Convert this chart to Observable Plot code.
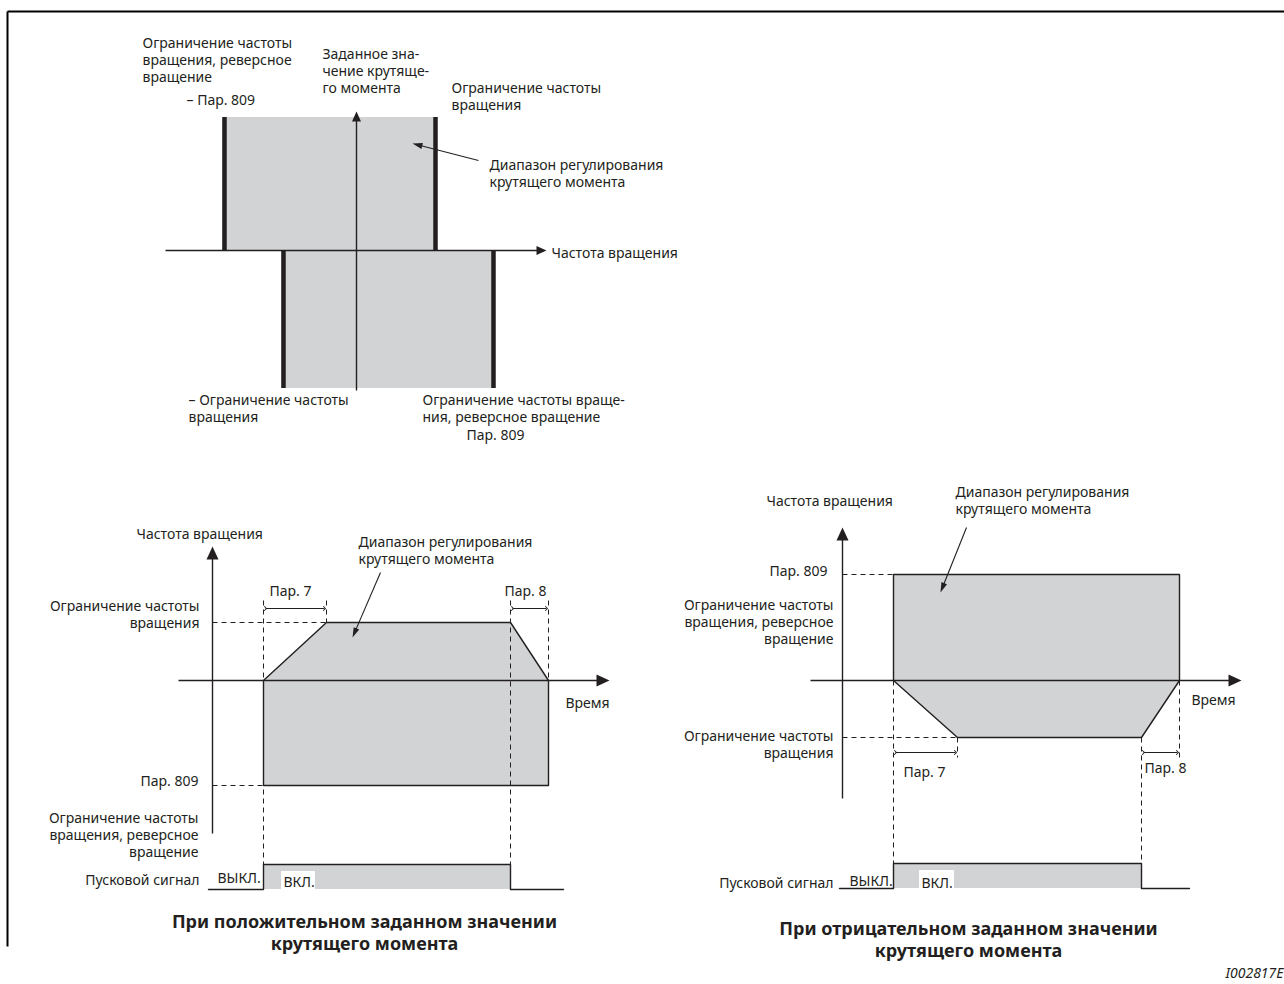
<!DOCTYPE html>
<html>
<head>
<meta charset="utf-8">
<script src="https://cdn.jsdelivr.net/npm/d3@7"></script>
<script src="https://cdn.jsdelivr.net/npm/@observablehq/plot@0.6"></script>
<style>
  html, body { margin: 0; padding: 0; background: #fff; }
  #chart svg { display: block; }
</style>
</head>
<body>
<div id="chart"></div>
<script>
// ---------- DATA (diagram coordinates, image units) ----------
const frameLines = [
  {x1: 7, y1: 11, x2: 1284, y2: 11},
  {x1: 7, y1: 11, x2: 7, y2: 946}
];

// Top diagram: torque range bands and speed-limit bars
const torqueBands = [
  {x1: 222, x2: 437, y1: 117, y2: 250},
  {x1: 281, x2: 495, y1: 250, y2: 388}
];
const limitBars = [
  {x: 224, y1: 117, y2: 250},
  {x: 435, y1: 117, y2: 250},
  {x: 283, y1: 250, y2: 388},
  {x: 493, y1: 250, y2: 388}
];

// Axis lines (solid) with filled arrowheads at their tips
const axisLines = [
  {x1: 165, y1: 250, x2: 546, y2: 250, head: 10, half: 4.5},
  {x1: 356, y1: 390, x2: 356, y2: 111, head: 10, half: 4.5},
  {x1: 212, y1: 833, x2: 212, y2: 546, head: 13, half: 6},
  {x1: 178, y1: 680, x2: 609, y2: 680, head: 13, half: 6},
  {x1: 842, y1: 798, x2: 842, y2: 527, head: 13, half: 6},
  {x1: 810, y1: 680, x2: 1241, y2: 680, head: 13, half: 6}
];

// Pointer lines to "torque range" areas
const pointers = [
  {x1: 478, y1: 160, x2: 412, y2: 143, head: 10, half: 3},
  {x1: 380, y1: 572, x2: 352, y2: 637, head: 10, half: 3},
  {x1: 966, y1: 527, x2: 940, y2: 592, head: 10, half: 3}
];

// Torque range shapes in the time diagrams
const posShape = [[263,680],[326,622],[510,622],[548,680],[548,785],[263,785],[263,680]];
const negShape = [[893,574],[1179,574],[1179,680],[1141,737],[957,737],[893,680],[893,574]];

// Dashed helper lines
const dashLines = [
  {x1: 212, y1: 622, x2: 326, y2: 622},
  {x1: 212, y1: 785, x2: 263, y2: 785},
  {x1: 263, y1: 600, x2: 263, y2: 864},
  {x1: 326, y1: 600, x2: 326, y2: 622},
  {x1: 510, y1: 600, x2: 510, y2: 864},
  {x1: 548, y1: 600, x2: 548, y2: 680},
  {x1: 842, y1: 574, x2: 893, y2: 574},
  {x1: 842, y1: 737, x2: 957, y2: 737},
  {x1: 893, y1: 680, x2: 893, y2: 863},
  {x1: 957, y1: 737, x2: 957, y2: 757},
  {x1: 1141, y1: 737, x2: 1141, y2: 863},
  {x1: 1179, y1: 680, x2: 1179, y2: 757}
];

// Dimension arrows (Pr. 7 / Pr. 8)
const dimArrows = [
  {x1: 265, x2: 324, y: 608},
  {x1: 512, x2: 546, y: 608},
  {x1: 895, x2: 955, y: 752},
  {x1: 1143, x2: 1177, y: 752}
];

// Start signal traces
const posSignal = [[208,889],[263,889],[263,864],[510,864],[510,889],[563,889]];
const negSignal = [[839,888],[893,888],[893,863],[1141,863],[1141,888],[1189,888]];
const signalFills = [
  {x1: 263, x2: 510, y1: 864, y2: 889},
  {x1: 893, x2: 1141, y1: 863, y2: 888}
];
const onBoxes = [
  {x1: 281, x2: 315, y1: 871, y2: 889},
  {x1: 919, x2: 954, y1: 870, y2: 888}
];

// Labels (y = centre of first line)
const labels = [
  // top diagram
  {t: "Ограничение частоты\nвращения, реверсное\nвращение", x: 142, y: 41, a: "start"},
  {t: "– Пар. 809", x: 186, y: 98, a: "start"},
  {t: "Заданное зна-\nчение крутяще-\nго момента", x: 322, y: 52, a: "start"},
  {t: "Ограничение частоты\nвращения", x: 451, y: 86, a: "start"},
  {t: "Диапазон регулирования\nкрутящего момента", x: 489, y: 163, a: "start"},
  {t: "Частота вращения", x: 551, y: 251, a: "start"},
  {t: "– Ограничение частоты\nвращения", x: 188, y: 398, a: "start"},
  {t: "Ограничение частоты враще-\nния, реверсное вращение", x: 422, y: 398, a: "start"},
  {t: "Пар. 809", x: 466, y: 433, a: "start"},
  // bottom-left diagram
  {t: "Частота вращения", x: 136, y: 532, a: "start"},
  {t: "Диапазон регулирования\nкрутящего момента", x: 358, y: 540, a: "start"},
  {t: "Пар. 7", x: 269, y: 589, a: "start"},
  {t: "Пар. 8", x: 504, y: 589, a: "start"},
  {t: "Ограничение частоты\nвращения", x: 199, y: 604, a: "end"},
  {t: "Время", x: 565, y: 701, a: "start"},
  {t: "Пар. 809", x: 198, y: 779, a: "end"},
  {t: "Ограничение частоты\nвращения, реверсное\nвращение", x: 198, y: 816, a: "end"},
  {t: "Пусковой сигнал", x: 199, y: 878, a: "end"},
  {t: "ВЫКЛ.", x: 217, y: 876, a: "start"},
  {t: "ВКЛ.", x: 283, y: 880, a: "start"},
  // bottom-right diagram
  {t: "Частота вращения", x: 766, y: 499, a: "start"},
  {t: "Диапазон регулирования\nкрутящего момента", x: 955, y: 490, a: "start"},
  {t: "Пар. 809", x: 827, y: 569, a: "end"},
  {t: "Ограничение частоты\nвращения, реверсное\nвращение", x: 833, y: 603, a: "end"},
  {t: "Время", x: 1191, y: 698, a: "start"},
  {t: "Ограничение частоты\nвращения", x: 833, y: 734, a: "end"},
  {t: "Пар. 7", x: 903, y: 770, a: "start"},
  {t: "Пар. 8", x: 1144, y: 766, a: "start"},
  {t: "Пусковой сигнал", x: 833, y: 881, a: "end"},
  {t: "ВЫКЛ.", x: 849, y: 879, a: "start"},
  {t: "ВКЛ.", x: 921, y: 881, a: "start"}
];
const titles = [
  {t: "При положительном заданном значении\nкрутящего момента", x: 364, y: 919},
  {t: "При отрицательном заданном значении\nкрутящего момента", x: 968, y: 926}
];
const codeLabel = [{t: "I002817E", x: 1283, y: 973}];

// ---------- BUILD ----------
const INK = "#231f20";
const GRAY = "#d1d3d4";
const FONT = "Noto Sans, Open Sans, sans-serif";
const FS = 14;

function headTriangle(d, id) {
  const dx = d.x2 - d.x1, dy = d.y2 - d.y1;
  const L = Math.hypot(dx, dy), ux = dx / L, uy = dy / L;
  const bx = d.x2 - ux * d.head, by = d.y2 - uy * d.head;
  const px = -uy * d.half, py = ux * d.half;
  return [
    {id, x: d.x2, y: d.y2},
    {id, x: bx + px, y: by + py},
    {id, x: bx - px, y: by - py},
    {id, x: d.x2, y: d.y2}
  ];
}
function shortened(d) {
  const dx = d.x2 - d.x1, dy = d.y2 - d.y1;
  const L = Math.hypot(dx, dy);
  const k = (L - d.head * 0.8) / L;
  return {x1: d.x1, y1: d.y1, x2: d.x1 + dx * k, y2: d.y1 + dy * k};
}
const heads = [...axisLines, ...pointers].flatMap((d, i) => headTriangle(d, i));
const shapePts = [
  ...posShape.map(([x, y]) => ({id: "pos", x, y})),
  ...negShape.map(([x, y]) => ({id: "neg", x, y}))
];
const signalPts = [
  ...posSignal.map(([x, y]) => ({id: "pos", x, y})),
  ...negSignal.map(([x, y]) => ({id: "neg", x, y}))
];

const textMark = (data, anchor) => Plot.text(data, {
  x: "x", y: "y", text: "t", textAnchor: anchor, lineAnchor: "top", dy: -5,
  lineHeight: 1.19, fontSize: FS, fontFamily: FONT, fill: INK
});

const chart = Plot.plot({
  width: 1284, height: 984,
  margin: 0,
  x: {domain: [0, 1284], range: [0, 1284], axis: null},
  y: {domain: [0, 984], range: [0, 984], axis: null},
  style: {background: "#fff", overflow: "visible"},
  marks: [
    Plot.link(frameLines, {x1: "x1", y1: "y1", x2: "x2", y2: "y2", stroke: "#000", strokeWidth: 2}),
    // top diagram
    Plot.rect(torqueBands, {x1: "x1", x2: "x2", y1: "y1", y2: "y2", fill: GRAY}),
    Plot.ruleX(limitBars, {x: "x", y1: "y1", y2: "y2", stroke: INK, strokeWidth: 4.5}),
    // bottom shapes
    Plot.line(shapePts, {x: "x", y: "y", z: "id", fill: GRAY, stroke: INK, strokeWidth: 1.4}),
    Plot.link(dashLines, {x1: "x1", y1: "y1", x2: "x2", y2: "y2", stroke: INK, strokeWidth: 1, strokeDasharray: "5,4"}),
    Plot.link(dimArrows, {x1: "x1", x2: "x2", y1: "y", y2: "y", stroke: INK, strokeWidth: 1, markerStart: "arrow", markerEnd: "arrow"}),
    // start signal
    Plot.rect(signalFills, {x1: "x1", x2: "x2", y1: "y1", y2: "y2", fill: GRAY}),
    Plot.line(signalPts, {x: "x", y: "y", z: "id", stroke: INK, strokeWidth: 1.4}),
    Plot.rect(onBoxes, {x1: "x1", x2: "x2", y1: "y1", y2: "y2", fill: "#fff"}),
    // axes and pointers
    Plot.link(axisLines.map(shortened), {x1: "x1", y1: "y1", x2: "x2", y2: "y2", stroke: INK, strokeWidth: 1.4}),
    Plot.link(pointers.map(shortened), {x1: "x1", y1: "y1", x2: "x2", y2: "y2", stroke: INK, strokeWidth: 1.1}),
    Plot.line(heads, {x: "x", y: "y", z: "id", fill: INK, stroke: "none"}),
    // texts
    textMark(labels.filter(d => d.a === "start"), "start"),
    textMark(labels.filter(d => d.a === "end"), "end"),
    Plot.text(titles, {x: "x", y: "y", text: "t", textAnchor: "middle", lineAnchor: "top", dy: -7,
      lineHeight: 1.22, fontSize: 18, fontWeight: "bold", fontFamily: FONT, fill: INK}),
    Plot.text(codeLabel, {x: "x", y: "y", text: "t", textAnchor: "end", lineAnchor: "top", dy: -5,
      fontSize: 14, fontStyle: "italic", fontFamily: FONT, fill: INK})
  ]
});
document.getElementById("chart").appendChild(chart);
</script>
</body>
</html>
